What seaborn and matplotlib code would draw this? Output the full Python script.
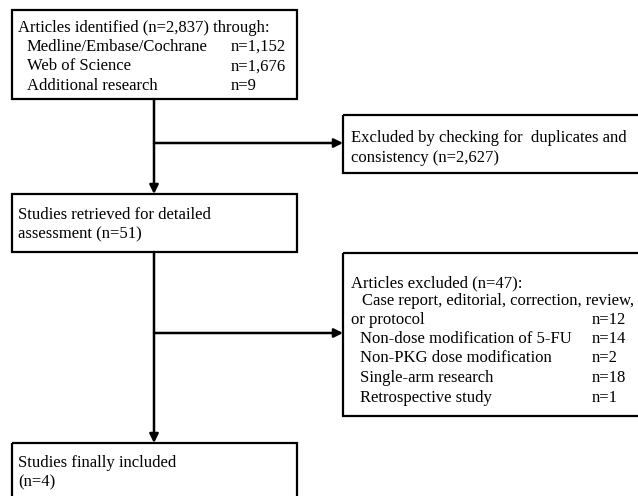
import matplotlib
matplotlib.use("Agg")
import matplotlib.pyplot as plt
from matplotlib.patches import Rectangle
import seaborn as sns

# ---- content ----
box1_title = "Articles identified (n=2,837) through:"
box1_labels = ["Medline/Embase/Cochrane", "Web of Science", "Additional research"]
box1_counts = ["n=1,152", "n=1,676", "n=9"]

box2_lines = ["Excluded by checking for  duplicates and", "consistency (n=2,627)"]

box3_lines = ["Studies retrieved for detailed", "assessment (n=51)"]

box4_title = "Articles excluded (n=47):"
box4_first = ["Case report, editorial, correction, review,", "or protocol"]
box4_first_count = "n=12"
box4_labels = ["Non-dose modification of 5-FU", "Non-PKG dose modification",
               "Single-arm research", "Retrospective study"]
box4_counts = ["n=14", "n=2", "n=18", "n=1"]

box5_lines = ["Studies finally included", "(n=4)"]

sns.set_theme(style="white")
plt.rcParams['font.family'] = ['Liberation Serif', 'DejaVu Serif']

W, H = 638, 496
fig = plt.figure(figsize=(W / 100, H / 100), dpi=100)
ax = fig.add_axes([0, 0, 1, 1])
ax.set_xlim(0, W)
ax.set_ylim(H, 0)
ax.axis("off")

FS = 12.0
LW = 1.6


def box(x0, y0, x1, y1):
    ax.add_patch(Rectangle((x0, y0), x1 - x0, y1 - y0, fill=False,
                           edgecolor="black", linewidth=LW, clip_on=False))


def txt(x, y, s):
    ax.text(x, y, s, fontsize=FS, color="black", va="center", ha="left")


def arrow(x0, y0, x1, y1):
    ax.annotate("", xy=(x1, y1), xytext=(x0, y0),
                arrowprops=dict(arrowstyle="-|>", color="black", lw=1.8,
                                mutation_scale=13, shrinkA=0, shrinkB=0))


# Box 1
box(12, 10, 297, 99)
txt(18, 28, box1_title)
for i, (lab, c) in enumerate(zip(box1_labels, box1_counts)):
    y = 47 + i * 19.5
    txt(27, y, lab)
    txt(231, y, c)

# Box 2
box(343, 115, 660, 173)
for i, s in enumerate(box2_lines):
    txt(351, 138 + i * 20, s)

# Box 3
box(12, 194, 297, 252)
for i, s in enumerate(box3_lines):
    txt(18, 215 + i * 19, s)

# Box 4
box(343, 253, 660, 416)
txt(351, 283, box4_title)
txt(362, 301, box4_first[0])
txt(351, 320, box4_first[1])
txt(592, 320, box4_first_count)
for i, (lab, c) in enumerate(zip(box4_labels, box4_counts)):
    y = 339 + i * 19.5
    txt(360, y, lab)
    txt(592, y, c)

# Box 5
box(12, 443, 297, 510)
for i, s in enumerate(box5_lines):
    txt(18, 463 + i * 19, s)

# Connectors
VX = 154
arrow(VX, 99, VX, 194)
arrow(VX, 143, 343, 143)
arrow(VX, 252, VX, 443)
arrow(VX, 333, 343, 333)

fig.savefig("out.png", dpi=100, facecolor="white")
